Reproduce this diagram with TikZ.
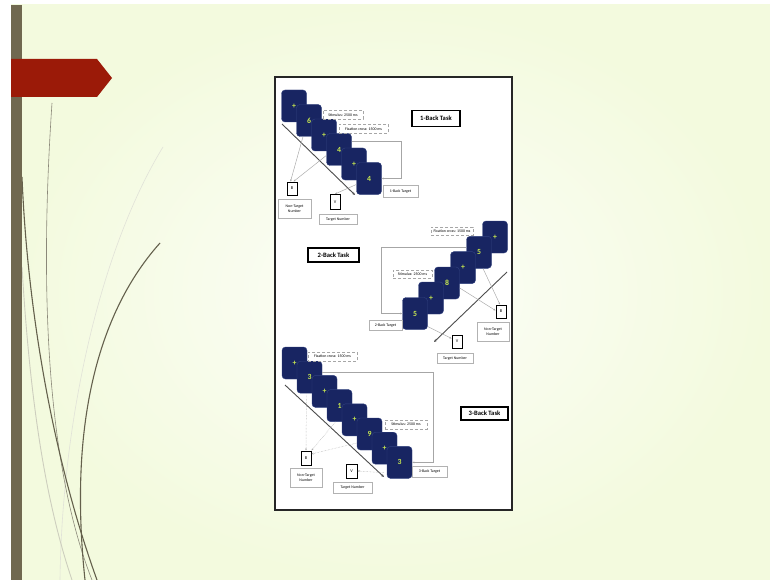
\documentclass[tikz,border=0pt]{standalone}
\usepackage{fontspec}
\setmainfont{Carlito}
\usetikzlibrary{arrows.meta,calc}
\definecolor{bgouter}{RGB}{243,250,222}
\definecolor{bginner}{RGB}{253,254,249}
\definecolor{barcol}{RGB}{112,104,80}
\definecolor{redcol}{RGB}{155,26,8}
\definecolor{cardcol}{RGB}{24,37,98}
\definecolor{cardedge}{RGB}{50,66,128}
\definecolor{digitcol}{RGB}{200,232,80}
\definecolor{curvedark}{RGB}{100,96,76}
\definecolor{curvelight}{RGB}{205,206,190}
\begin{document}
\begin{tikzpicture}[x=1pt,y=-1pt,
  cardbox/.style={rectangle,rounded corners=3.5pt,fill=cardcol,draw=cardedge,line width=0.4pt,minimum width=25pt,minimum height=32pt,inner sep=0pt,text=digitcol,font=\fontsize{7.8}{8}\selectfont\bfseries},
  notebox/.style={draw=gray!70,densely dashed,line width=0.4pt,fill=white,inner sep=0pt,minimum height=9pt,font=\fontsize{3.9}{4.2}\selectfont},
  taskbox/.style={draw=black,line width=1.1pt,fill=white,inner sep=0pt,font=\fontsize{6.6}{7.5}\selectfont\bfseries},
  respbox/.style={draw=black,line width=1pt,fill=white,inner sep=0pt,minimum width=10pt,minimum height=13pt,font=\fontsize{4.3}{5}\selectfont},
  capbox/.style={draw=gray!60,line width=0.4pt,fill=white,inner sep=0pt,align=center,font=\fontsize{3.9}{4.6}\selectfont},
  connline/.style={draw=gray!70,line width=0.45pt,-{Stealth[length=2.2pt,width=1.8pt]}},
  dotline/.style={connline,densely dotted},
  diagline/.style={draw=black!70,line width=0.9pt,-{Stealth[length=3pt,width=2.6pt]}}]
\useasboundingbox (0,0) rectangle (770,580);
\fill[white] (0,0) rectangle (770,580);
\shade[inner color=bginner,outer color=bgouter] (11,5) rectangle (770,580);
% decorative curves
\draw[curvelight!60,line width=0.6pt] (163,147) .. controls (100,250) and (62,420) .. (60,580);
\draw[curvelight,line width=0.9pt] (22,267) .. controls (30,400) and (45,500) .. (72,580);
\draw[curvedark!75,line width=0.6pt] (52,103) .. controls (40,280) and (45,460) .. (92,580);
\draw[curvedark,line width=1.1pt] (22,177) .. controls (27,300) and (50,450) .. (97,580);
\draw[curvedark,line width=1.1pt] (160,243) .. controls (100,310) and (68,420) .. (85,580);
\fill[barcol] (11,5) rectangle (22,580);
\fill[redcol] (11,59) -- (97,59) -- (112,78) -- (97,97) -- (11,97) -- cycle;
% frame
\node[draw=black!85,line width=1.4pt,fill=white,minimum width=237pt,minimum height=433pt,inner sep=0pt] (frame) at (393.5,293.5) {};

% ---------- 1-Back ----------
\coordinate (d1s) at (282,124);
\coordinate (d1e) at (355,195);
\draw[diagline] (d1s) -- (d1e);
\node[respbox] (R1) at (292,188.5) {B};
\node[capbox,minimum width=33pt,minimum height=19pt] (NT1) at (294.5,208.5) {Non-Target\\Number};
\node[respbox,minimum height=15pt] (V1) at (335,202) {V};
\node[capbox,minimum width=38pt,minimum height=10pt] (T1) at (338,219) {Target Number};
\node[cardbox] (a1) at (294,106) {+};
\node[cardbox] (a2) at (309,120.5) {6};
\node[cardbox] (a3) at (324,135) {+};
\node[cardbox] (a4) at (339,149.5) {4};
\node[cardbox] (a5) at (354,164) {+};
\node[cardbox] (a6) at (369,178.5) {4};
\draw[connline] ([xshift=-6pt]a2.south) -- ([xshift=-1.5pt]R1.north);
\draw[connline] ($(a4.west)+(0,6)$) -- ([xshift=1.5pt]R1.north);
\draw[connline] ($(a6.west)+(0,6)$) -- (V1.north);
\draw[connline] ($(a4.north east)+(0,8)$) -| ($(a6.east)+(20,0)$) -- (a6.east);
\node[notebox,minimum width=40pt] (s1) at (343,115) {Stimulus: 2500 ms};
\node[notebox,minimum width=49pt] (f1) at (363.5,129) {Fixation cross: 1500 ms};
\node[taskbox,minimum width=48pt,minimum height=16pt] (k1) at (436,118.5) {1-Back Task};
\node[capbox,minimum width=35pt,minimum height=12pt] (g1) at (400.5,191) {1-Back Target};

% ---------- 2-Back ----------
\coordinate (d2s) at (507,272);
\coordinate (d2e) at (434,342);
\draw[diagline] (d2s) -- (d2e);
\node[respbox] (R2) at (501,311.5) {B};
\node[capbox,minimum width=32pt,minimum height=19pt] (NT2) at (493,331.5) {Non-Target\\Number};
\node[respbox] (V2) at (457,341.5) {V};
\node[capbox,minimum width=36pt,minimum height=10pt] (T2) at (455,358) {Target Number};
\node[cardbox] (b1) at (495,237) {+};
\node[cardbox] (b2) at (479,252.3) {5};
\node[cardbox] (b3) at (463,267.6) {+};
\node[cardbox] (b4) at (447,283) {8};
\node[cardbox] (b5) at (431,298) {+};
\node[cardbox] (b6) at (415,313.5) {5};
\draw[connline] ([xshift=4pt]b2.south) -- ([xshift=-1pt]R2.north);
\draw[connline] ($(b4.east)+(0,5)$) -- ($(R2.west)+(0,-1)$);
\draw[connline] ($(b6.east)+(0,13)$) -- ($(V2.west)+(0,-3)$);
\draw[connline] ($(b2.west)+(0,-5)$) -| ($(b6.west)+(-21.5,0)$) -- (b6.west);
\node[notebox,minimum width=42pt,minimum height=8pt] (f2) at (452,231) {Fixation cross: 1500 ms};
\node[notebox,minimum width=39pt,minimum height=8pt] (s2) at (412.5,274) {Stimulus: 2500 ms};
\node[taskbox,minimum width=51pt,minimum height=14pt] (k2) at (333.5,255) {2-Back Task};
\node[capbox,minimum width=33pt,minimum height=10pt] (g2) at (385.5,325) {2-Back Target};

% ---------- 3-Back ----------
\coordinate (d3s) at (285,385);
\coordinate (d3e) at (384,477);
\draw[diagline] (d3s) -- (d3e);
\node[respbox,minimum height=14pt] (R3) at (306,458) {B};
\node[capbox,minimum width=32pt,minimum height=19pt] (NT3) at (306,477.5) {Non-Target\\Number};
\node[respbox,minimum width=11pt,minimum height=14pt] (V3) at (351.5,471) {V};
\node[capbox,minimum width=39pt,minimum height=11pt] (T3) at (352.5,487.5) {Target Number};
\node[cardbox] (c1) at (294.5,363) {+};
\node[cardbox] (c2) at (309.5,377.2) {3};
\node[cardbox] (c3) at (324.5,391.4) {+};
\node[cardbox] (c4) at (339.5,405.6) {1};
\node[cardbox] (c5) at (354.5,419.8) {+};
\node[cardbox] (c6) at (369.5,434) {9};
\node[cardbox] (c7) at (384.5,448.2) {+};
\node[cardbox] (c8) at (399.5,462.4) {3};
\draw[dotline] ([xshift=-3pt]c2.south) -- (R3.north);
\draw[dotline] ([xshift=-4pt]c4.south) -- (R3.north east);
\draw[dotline] ($(c6.west)+(0,9)$) -- ($(R3.east)+(0,-4)$);
\draw[dotline] ($(c8.west)+(-3,10.3)$) -- (V3.east);
\draw[connline] ($(c2.east)+(0,-5)$) -| ($(c8.east)+(21,0)$) -- (c8.east);
\node[notebox,minimum width=49pt] (f3) at (332.5,356.5) {Fixation cross: 1500 ms};
\node[notebox,minimum width=42pt] (s3) at (406,424.5) {Stimulus: 2500 ms};
\node[taskbox,minimum width=47pt,minimum height=13pt] (k3) at (484.5,413.5) {3-Back Task};
\node[capbox,minimum width=35pt,minimum height=11pt] (g3) at (429.5,471.5) {3-Back Target};
\end{tikzpicture}
\end{document}
